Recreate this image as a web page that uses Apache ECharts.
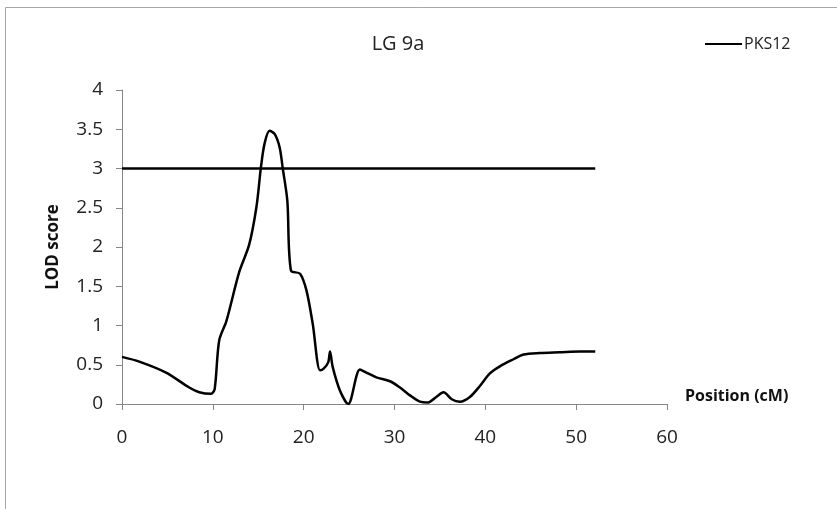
<!DOCTYPE html>
<html>
<head>
<meta charset="utf-8">
<script src="https://cdn.jsdelivr.net/npm/echarts@6/dist/echarts.min.js"></script>
<style>
  html, body { margin: 0; padding: 0; background: #fff; }
  #chart { width: 837px; height: 509px; }
</style>
</head>
<body>
<div id="chart"></div>
<script>
// LOD 曲线 (位置 cM, LOD)
var positions = [0, 1.9, 4.85, 7.4, 8.5, 9.8, 10.2, 10.7, 11.5, 12.9, 14.0, 14.8, 15.3, 15.7, 16.25, 16.8, 17.35, 17.7, 18.2, 18.6, 19.6, 20.3, 21.0, 21.8, 22.2, 22.7, 22.9, 23.2, 24.0, 24.9, 26.2, 26.9, 28.0, 29.5, 30.6, 31.7, 32.8, 33.7, 34.6, 35.4, 36.3, 37.2, 38.3, 39.4, 40.5, 41.6, 43.1, 44.2, 46.0, 48.2, 50.4, 52.1];
var lodValues = [0.60, 0.54, 0.40, 0.21, 0.15, 0.13, 0.19, 0.81, 1.06, 1.68, 2.03, 2.51, 3.02, 3.32, 3.48, 3.44, 3.27, 3.0, 2.59, 1.70, 1.66, 1.45, 1.02, 0.43, 0.45, 0.53, 0.67, 0.47, 0.17, 0.0, 0.44, 0.40, 0.34, 0.29, 0.21, 0.11, 0.03, 0.02, 0.09, 0.15, 0.06, 0.03, 0.09, 0.23, 0.39, 0.48, 0.57, 0.63, 0.65, 0.66, 0.67, 0.67];
// 阈值线
var thresholdX = [0, 52.1];
var thresholdY = [3, 3];

var curve = positions.map(function (x, i) { return [x, lodValues[i]]; });
var threshold = thresholdX.map(function (x, i) { return [x, thresholdY[i]]; });

var font = "'Open Sans', sans-serif";
var chart = echarts.init(document.getElementById('chart'));
var option = {
    backgroundColor: '#fff',
    animation: false,
    title: {
        text: 'LG 9a',
        left: 393,
        textAlign: 'center',
        top: 29,
        textStyle: { fontFamily: font, fontSize: 20, fontWeight: 'normal', color: '#222' }
    },
    legend: {
        data: ['PKS12'],
        left: 700,
        top: 31,
        itemWidth: 37,
        itemHeight: 2,
        itemGap: 2,
        icon: 'rect',
        textStyle: { fontFamily: font, fontSize: 16, color: '#222', padding: [0, 0, 0, -3] }
    },
    // 外框
    graphic: [{
        type: 'rect',
        shape: { x: 5.5, y: 7.5, width: 900, height: 600 },
        style: { fill: 'none', stroke: '#a6a6a6', lineWidth: 1 }
    }],
    grid: { left: 122, right: 170, top: 90, bottom: 105 },
    xAxis: {
        type: 'value',
        min: 0, max: 60, interval: 10,
        name: 'Position (cM)',
        nameLocation: 'end',
        nameGap: 18,
        nameTextStyle: { fontFamily: font, fontSize: 16, fontWeight: 'bold', color: '#111', verticalAlign: 'bottom' },
        axisLine: { lineStyle: { color: '#868686', width: 1 } },
        axisTick: { show: true, length: 6, lineStyle: { color: '#868686' } },
        axisLabel: { fontFamily: font, fontSize: 19, color: '#222', margin: 24 },
        splitLine: { show: false }
    },
    yAxis: {
        type: 'value',
        min: 0, max: 4, interval: 0.5,
        name: 'LOD score',
        nameLocation: 'middle',
        nameGap: 60,
        nameRotate: 90,
        nameTextStyle: { fontFamily: font, fontSize: 17, fontWeight: 'bold', color: '#111' },
        axisLine: { show: true, lineStyle: { color: '#868686', width: 1 } },
        axisTick: { show: true, length: 6, lineStyle: { color: '#868686' } },
        axisLabel: { fontFamily: font, fontSize: 19, color: '#222', margin: 19 },
        splitLine: { show: false }
    },
    series: [{
        name: 'PKS12',
        type: 'line',
        data: curve,
        smooth: 0.3,
        showSymbol: false,
        itemStyle: { color: '#000' },
        lineStyle: { color: '#000', width: 2.5 }
    }, {
        name: 'threshold',
        type: 'line',
        data: threshold,
        showSymbol: false,
        itemStyle: { color: '#000' },
        lineStyle: { color: '#000', width: 2.5 }
    }]
};
chart.setOption(option);
</script>
</body>
</html>
